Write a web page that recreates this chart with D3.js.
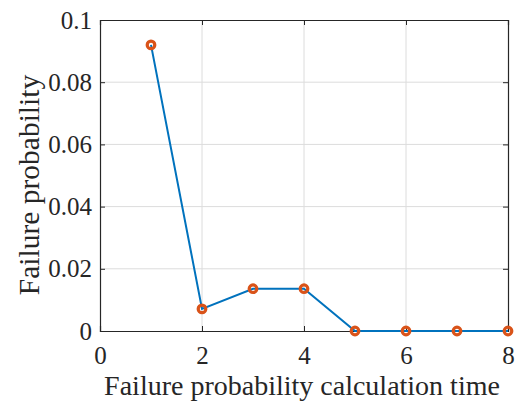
<!DOCTYPE html>
<head>
  <meta charset="utf-8">
  <style>
    body { margin: 0; background: #fff; }
    svg text { font-family: 'Liberation Serif', 'Times New Roman', serif; fill: #262626; }
  </style>
</head>
<body>
  <script src="https://cdn.jsdelivr.net/npm/d3@7"></script>
  <script>
    // values
    const times = [1, 2, 3, 4, 5, 6, 7, 8];
    const probs = [0.092, 0.0071, 0.0136, 0.0136, 0, 0, 0, 0];
    const xTicks = [0, 2, 4, 6, 8];
    const yTicks = [0, 0.02, 0.04, 0.06, 0.08, 0.1];
    const yTickLabels = ["0", "0.02", "0.04", "0.06", "0.08", "0.1"];

    const width = 515, height = 406;
    const margin = {top: 20, right: 7, bottom: 75, left: 100};
    const innerWidth = width - margin.left - margin.right;
    const innerHeight = height - margin.top - margin.bottom;

    const svg = d3.select("body").append("svg")
      .attr("width", width)
      .attr("height", height);
    const g = svg.append("g")
      .attr("transform", "translate(" + margin.left + "," + margin.top + ")");

    const x = d3.scaleLinear().domain([0, 8]).range([0, innerWidth]);
    const y = d3.scaleLinear().domain([0, 0.1]).range([innerHeight, 0]);

    // grid
    g.append("g").selectAll("line").data(xTicks.slice(1, -1)).enter().append("line")
      .attr("x1", d => x(d)).attr("x2", d => x(d))
      .attr("y1", 0).attr("y2", innerHeight)
      .attr("stroke", "#dcdcdc").attr("stroke-width", 1);
    g.append("g").selectAll("line").data(yTicks.slice(1, -1)).enter().append("line")
      .attr("y1", d => y(d)).attr("y2", d => y(d))
      .attr("x1", 0).attr("x2", innerWidth)
      .attr("stroke", "#dcdcdc").attr("stroke-width", 1);

    // axes (MATLAB style: inward ticks, box on)
    const xaxis = d3.axisBottom(x).tickValues(xTicks).tickSize(-5).tickPadding(15);
    const yaxis = d3.axisLeft(y).tickValues(yTicks).tickSize(-5).tickPadding(8)
      .tickFormat((d, i) => yTickLabels[i]);

    const gx = g.append("g").attr("transform", "translate(0," + innerHeight + ")").call(xaxis);
    const gy = g.append("g").call(yaxis);
    g.append("g").call(d3.axisTop(x).tickValues(xTicks).tickSize(-5).tickFormat(""));
    g.append("g").attr("transform", "translate(" + innerWidth + ",0)")
      .call(d3.axisRight(y).tickValues(yTicks).tickSize(-5).tickFormat(""));

    [gx, gy].forEach(a => a
      .attr("font-family", "'Liberation Serif', 'Times New Roman', serif")
      .attr("font-size", 25));
    g.selectAll(".domain").attr("stroke", "#262626").attr("stroke-width", 1.2);
    g.selectAll(".tick line").attr("stroke", "#262626");

    // line + markers
    const pts = times.map((t, i) => [t, probs[i]]);
    g.append("path")
      .datum(pts)
      .attr("fill", "none")
      .attr("stroke", "#0072BD")
      .attr("stroke-width", 2)
      .attr("d", d3.line().x(d => x(d[0])).y(d => y(d[1])));

    g.selectAll("circle.m").data(pts).enter().append("circle")
      .attr("class", "m")
      .attr("cx", d => x(d[0])).attr("cy", d => y(d[1]))
      .attr("r", 3.8)
      .attr("fill", "none")
      .attr("stroke", "#D95319")
      .attr("stroke-width", 3.2);

    // labels
    svg.append("text")
      .attr("x", 302)
      .attr("y", 395)
      .attr("text-anchor", "middle")
      .style("font-size", "28px")
      .text("Failure probability calculation time");

    svg.append("text")
      .attr("transform", "translate(39,185) rotate(-90)")
      .attr("text-anchor", "middle")
      .style("font-size", "29.5px")
      .text("Failure probability");
  </script>
</body>
